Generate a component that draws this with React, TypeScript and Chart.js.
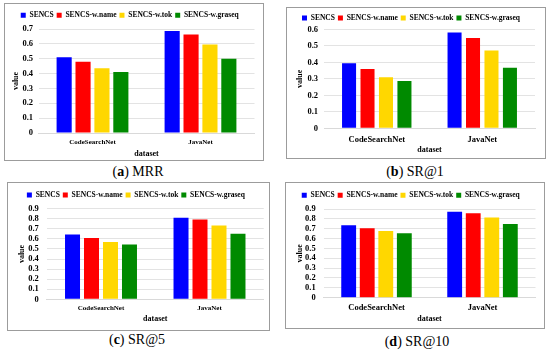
import React, { useEffect, useRef } from "react";
import { Chart, registerables } from "chart.js";

Chart.register(...registerables);

const categories = ["CodeSearchNet", "JavaNet"];
const seriesNames = ["SENCS", "SENCS-w.name", "SENCS-w.tok", "SENCS-w.graseq"];
const seriesColors = ["#0000FF", "#FF0000", "#FFD700", "#008A00"];

// (a) MRR
const mrrSENCS = [0.51, 0.687];
const mrrName = [0.48, 0.663];
const mrrTok = [0.435, 0.596];
const mrrGraseq = [0.41, 0.5];

// (b) SR@1
const sr1SENCS = [0.394, 0.58];
const sr1Name = [0.36, 0.548];
const sr1Tok = [0.31, 0.472];
const sr1Graseq = [0.287, 0.367];

// (c) SR@5
const sr5SENCS = [0.643, 0.81];
const sr5Name = [0.61, 0.793];
const sr5Tok = [0.57, 0.733];
const sr5Graseq = [0.545, 0.65];

// (d) SR@10
const sr10SENCS = [0.735, 0.872];
const sr10Name = [0.705, 0.857];
const sr10Tok = [0.678, 0.815];
const sr10Graseq = [0.655, 0.748];

const yMaxes = [0.7, 0.6, 0.9, 0.9];
const captionLetters = ["a", "b", "c", "d"];
const captionNames = ["MRR", "SR@1", "SR@5", "SR@10"];

const FONT = "'Liberation Serif', 'Times New Roman', serif";

const legendAdjust = {
  id: "legendAdjust",
  beforeUpdate(chart: any, _args: any, opts: any) {
    const lg = chart.legend;
    if (lg && !lg.__patched) {
      const orig = lg.fit;
      lg.fit = function () {
        orig.call(this);
        this.height -= (opts && opts.shift) || 0;
      };
      lg.__patched = true;
    }
  },
};

type Cfg = {
  left: number; top: number; width: number; height: number;
  values: number[][]; yMax: number;
  yAxisWidth: number; padRight: number; padTop: number; xAxisHeight: number;
  tickPad: number; yTitlePad: number; catFont: number; catPad: number; xTitlePad: number;
  barPct: number; shift: number; legendPad: number;
  capX: number; capY: number; letter: string; name: string;
};

function Panel({ cfg }: { cfg: Cfg }) {
  const ref = useRef<HTMLCanvasElement>(null);
  const W = cfg.width - 2;
  const H = cfg.height - 2;
  useEffect(() => {
    if (!ref.current) return;
    const chart = new Chart(ref.current, {
      type: "bar",
      data: {
        labels: categories,
        datasets: seriesNames.map((n, i) => ({
          label: n,
          data: cfg.values[i],
          backgroundColor: seriesColors[i],
          borderWidth: 0,
          categoryPercentage: 0.7,
          barPercentage: cfg.barPct,
        })),
      },
      options: {
        responsive: false,
        animation: false,
        layout: { padding: { left: 0, right: cfg.padRight, top: cfg.padTop, bottom: 0 } },
        plugins: {
          legend: {
            position: "top",
            labels: {
              boxWidth: 5,
              boxHeight: 5,
              padding: cfg.legendPad,
              color: "#000",
              font: { family: FONT, size: 7.5, weight: "bold" },
            },
          },
          tooltip: { enabled: false },
          legendAdjust: { shift: cfg.shift },
        } as any,
        scales: {
          x: {
            grid: { display: false, drawTicks: false },
            border: { display: true, color: "#d9d9d9" },
            ticks: {
              color: "#000",
              padding: cfg.catPad,
              maxRotation: 0,
              font: { family: FONT, size: cfg.catFont, weight: "bold" },
            },
            title: {
              display: true,
              text: "dataset",
              color: "#000",
              padding: { top: 0, bottom: cfg.xTitlePad },
              font: { family: FONT, size: 8, weight: "bold" },
            },
            afterFit: (s: any) => { s.height = cfg.xAxisHeight; },
          },
          y: {
            min: 0,
            max: cfg.yMax,
            grid: { color: "#e3e3e3", drawTicks: false },
            border: { display: false },
            ticks: {
              stepSize: 0.1,
              autoSkip: false,
              color: "#000",
              padding: cfg.tickPad,
              font: { family: FONT, size: 8.5, weight: "bold" },
              callback: (v: any) => (Number(v) === 0 ? "0" : Number(v).toFixed(1)),
            },
            title: {
              display: true,
              text: "value",
              color: "#000",
              padding: { top: cfg.yTitlePad, bottom: 0 },
              font: { family: FONT, size: 8, weight: "bold" },
            },
            afterFit: (s: any) => { s.width = cfg.yAxisWidth; },
          },
        },
      } as any,
      plugins: [legendAdjust as any],
    });
    return () => chart.destroy();
  }, []);
  return (
    <>
      <div
        style={{
          position: "absolute",
          left: cfg.left,
          top: cfg.top,
          width: W,
          height: H,
          border: "1px solid #9c9c9c",
          background: "#fff",
        }}
      >
        <canvas ref={ref} width={W} height={H} style={{ display: "block", width: W, height: H }} />
      </div>
      <div
        style={{
          position: "absolute",
          left: cfg.capX,
          top: cfg.capY - 9,
          transform: "translateX(-50%)",
          fontFamily: FONT,
          fontSize: 14,
          lineHeight: "18px",
          whiteSpace: "nowrap",
          color: "#000",
        }}
      >
        (<b>{cfg.letter}</b>) {cfg.name}
      </div>
    </>
  );
}

const panels: Cfg[] = [
  {
    left: 4, top: 3, width: 260, height: 158,
    values: [mrrSENCS, mrrName, mrrTok, mrrGraseq], yMax: yMaxes[0],
    yAxisWidth: 33.5, padRight: 8.5, padTop: 4.5, xAxisHeight: 27,
    tickPad: 5.5, yTitlePad: 6.2, catFont: 7, catPad: 4.8, xTitlePad: 1.2,
    barPct: 0.8, shift: 0, legendPad: 3, capX: 138, capY: 172, letter: captionLetters[0], name: captionNames[0],
  },
  {
    left: 286, top: 7, width: 260, height: 152,
    values: [sr1SENCS, sr1Name, sr1Tok, sr1Graseq], yMax: yMaxes[1],
    yAxisWidth: 37, padRight: 10, padTop: 3.15, xAxisHeight: 29.7,
    tickPad: 6, yTitlePad: 8.2, catFont: 8.5, catPad: 6.6, xTitlePad: 3.2,
    barPct: 0.76, shift: 2.35, legendPad: 3, capX: 415, capY: 172, letter: captionLetters[1], name: captionNames[1],
  },
  {
    left: 7, top: 182, width: 263, height: 149,
    values: [sr5SENCS, sr5Name, sr5Tok, sr5Graseq], yMax: yMaxes[2],
    yAxisWidth: 38.75, padRight: 5.25, padTop: 5.2, xAxisHeight: 30.7,
    tickPad: 8, yTitlePad: 8.9, catFont: 7, catPad: 4.2, xTitlePad: 6.2,
    barPct: 0.79, shift: 0, legendPad: 3, capX: 137, capY: 340, letter: captionLetters[2], name: captionNames[2],
  },
  {
    left: 285, top: 182, width: 260, height: 147,
    values: [sr10SENCS, sr10Name, sr10Tok, sr10Graseq], yMax: yMaxes[3],
    yAxisWidth: 37.5, padRight: 8.5, padTop: 5.5, xAxisHeight: 30.3,
    tickPad: 7.8, yTitlePad: 9.2, catFont: 8.5, catPad: 5.2, xTitlePad: 4.2,
    barPct: 0.8, shift: 0, legendPad: 3, capX: 417, capY: 342, letter: captionLetters[3], name: captionNames[3],
  },
];

export default function App() {
  return (
    <div style={{ position: "absolute", left: 0, top: 0, width: 550, height: 353, background: "#fff" }}>
      {panels.map((p, i) => (
        <Panel key={i} cfg={p} />
      ))}
    </div>
  );
}
